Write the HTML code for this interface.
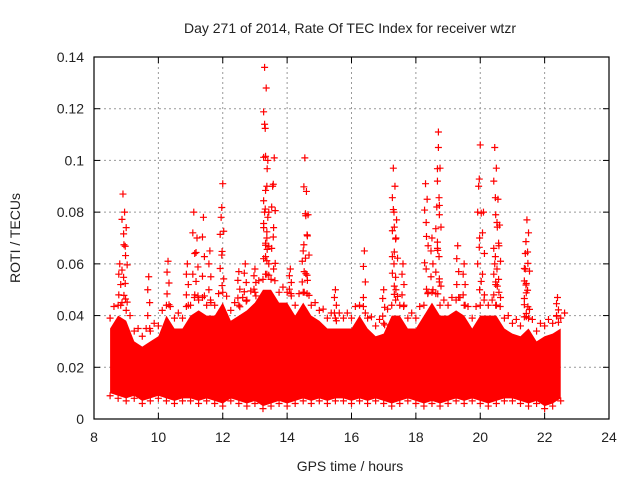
<!DOCTYPE html>
<html><head><meta charset="utf-8"><style>
body{margin:0;background:#fff;}
svg text{font-family:"Liberation Sans",sans-serif;fill:#222;}
</style></head><body>
<svg width="640" height="480" xmlns="http://www.w3.org/2000/svg">
<text x="350" y="33" font-size="14" text-anchor="middle">Day 271 of 2014, Rate Of TEC Index for receiver wtzr</text>
<text x="350" y="471" font-size="14" text-anchor="middle">GPS time / hours</text>
<text transform="translate(20,238) rotate(-90)" font-size="14" text-anchor="middle">ROTI / TECUs</text>
<g id="grid"></g>
<g id="marks"></g>
<g id="axes"></g>
</svg>
<script>
const xTicks=[8,10,12,14,16,18,20,22,24];
const yTicks=[0,0.02,0.04,0.06,0.08,0.1,0.12,0.14];
const yTickLabels=["0","0.02","0.04","0.06","0.08","0.1","0.12","0.14"];
const bandTimes=[8.5,8.75,9,9.25,9.5,9.75,10,10.25,10.5,10.75,11,11.25,11.5,11.75,12,12.25,12.5,12.75,13,13.25,13.5,13.75,14,14.25,14.5,14.75,15,15.25,15.5,15.75,16,16.25,16.5,16.75,17,17.25,17.5,17.75,18,18.25,18.5,18.75,19,19.25,19.5,19.75,20,20.25,20.5,20.75,21,21.25,21.5,21.75,22,22.25,22.5];
const bandHigh=[0.035,0.04,0.038,0.03,0.028,0.03,0.032,0.04,0.035,0.035,0.04,0.042,0.04,0.04,0.045,0.038,0.04,0.042,0.045,0.05,0.05,0.045,0.045,0.04,0.045,0.04,0.038,0.035,0.035,0.035,0.035,0.04,0.035,0.032,0.033,0.04,0.04,0.035,0.035,0.04,0.045,0.04,0.04,0.042,0.04,0.035,0.04,0.04,0.04,0.035,0.033,0.032,0.035,0.03,0.032,0.033,0.035];
const bandLow=[0.01,0.009,0.008,0.009,0.007,0.008,0.009,0.008,0.007,0.008,0.008,0.007,0.008,0.007,0.006,0.008,0.007,0.006,0.007,0.005,0.006,0.007,0.006,0.007,0.008,0.007,0.008,0.007,0.008,0.008,0.007,0.008,0.007,0.008,0.007,0.006,0.007,0.008,0.007,0.006,0.007,0.006,0.007,0.008,0.007,0.008,0.007,0.006,0.007,0.008,0.008,0.007,0.006,0.007,0.005,0.006,0.008];
const spikeT=[8.9,8.95,9.0,8.8,9.7,10.3,11.1,11.2,11.4,12.0,11.95,12.5,13.3,13.35,13.3,13.4,13.6,13.55,13.3,13.4,14.55,14.6,14.65,14.5,15.5,16.4,17.3,17.35,17.3,17.4,17.6,18.3,18.35,18.5,18.7,18.7,18.75,18.65,19.3,20.0,19.95,20.1,20.45,20.5,20.55,20.6,20.45,21.45,21.5,21.4,21.4,22.4,12.7,13.0,14.1,10.9,11.6,19.5,17.0];
const spikeV=[0.087,0.08,0.074,0.06,0.055,0.061,0.08,0.07,0.078,0.091,0.078,0.057,0.136,0.128,0.114,0.1,0.101,0.09,0.08,0.078,0.101,0.088,0.079,0.065,0.05,0.065,0.097,0.09,0.081,0.077,0.06,0.091,0.085,0.07,0.111,0.105,0.097,0.082,0.067,0.106,0.09,0.08,0.105,0.097,0.085,0.075,0.06,0.077,0.072,0.064,0.058,0.047,0.06,0.058,0.058,0.06,0.065,0.06,0.05];
const L=94,R=609,T=57,B=419,NS="http://www.w3.org/2000/svg";
const X=t=>L+(t-8)/16*(R-L), Y=v=>B-v/0.14*(B-T);
function mk(tag,attrs,parent){const e=document.createElementNS(NS,tag);for(const k in attrs)e.setAttribute(k,attrs[k]);parent.appendChild(e);return e;}
const grid=document.getElementById('grid'),marks=document.getElementById('marks'),axes=document.getElementById('axes');
xTicks.forEach(t=>{
 if(t>8&&t<24){const g=mk('line',{x1:X(t),x2:X(t),y1:T,y2:B,stroke:'#999','stroke-dasharray':'2,3'},grid);
 
 }
 mk('line',{x1:X(t),x2:X(t),y1:B,y2:B-6,stroke:'#000'},axes);mk('line',{x1:X(t),x2:X(t),y1:T,y2:T+6,stroke:'#000'},axes);
 const tx=mk('text',{x:X(t),y:B+23,'font-size':14,'text-anchor':'middle'},axes);tx.textContent=t;
 
 
});
yTicks.forEach((v,i)=>{
 if(v>0&&v<0.14){const g=mk('line',{x1:L,x2:R,y1:Y(v),y2:Y(v),stroke:'#999','stroke-dasharray':'2,3'},grid);
 
 }
 mk('line',{x1:L,x2:L+6,y1:Y(v),y2:Y(v),stroke:'#000'},axes);mk('line',{x1:R,x2:R-6,y1:Y(v),y2:Y(v),stroke:'#000'},axes);
 const tx=mk('text',{x:L-10,y:Y(v)+5,'font-size':14,'text-anchor':'end'},axes);tx.textContent=yTickLabels[i];
 
 
});
const fr=mk('rect',{x:L,y:T,width:R-L,height:B-T,fill:'none',stroke:'#000','stroke-width':1.2},axes);


// dense band
let pts=bandTimes.map((t,i)=>X(t)+','+Y(bandHigh[i])).join(' ')+' '+bandTimes.map((t,i)=>X(t)+','+Y(bandLow[i])).reverse().join(' ');
const band=mk('polygon',{points:pts,fill:'#f00'},marks);


function plus(t,v,name){const x=X(t),y=Y(v);const p=mk('path',{d:`M${x-3.5},${y}h7M${x},${y-3.5}v7`,stroke:'#f00','stroke-width':1.2},marks);
 
 }
bandTimes.forEach((t,i)=>{
 plus(t,bandHigh[i]+0.004,'point');plus(t+0.12,(bandHigh[i]+bandHigh[Math.min(i+1,bandHigh.length-1)])/2+0.006,'point');
 plus(t,bandLow[i]-0.001,'point');
});
spikeT.forEach((t,i)=>{
 plus(t,spikeV[i],'spike-point');
 const base=bandHigh[Math.round((t-8.5)/0.25)]||0.04;
 const n=5;for(let k=1;k<n;k++){plus(t+(k%2?0.03:-0.03),base+(spikeV[i]-base)*k/n,'spike-point');}
});
</script>
</body></html>
